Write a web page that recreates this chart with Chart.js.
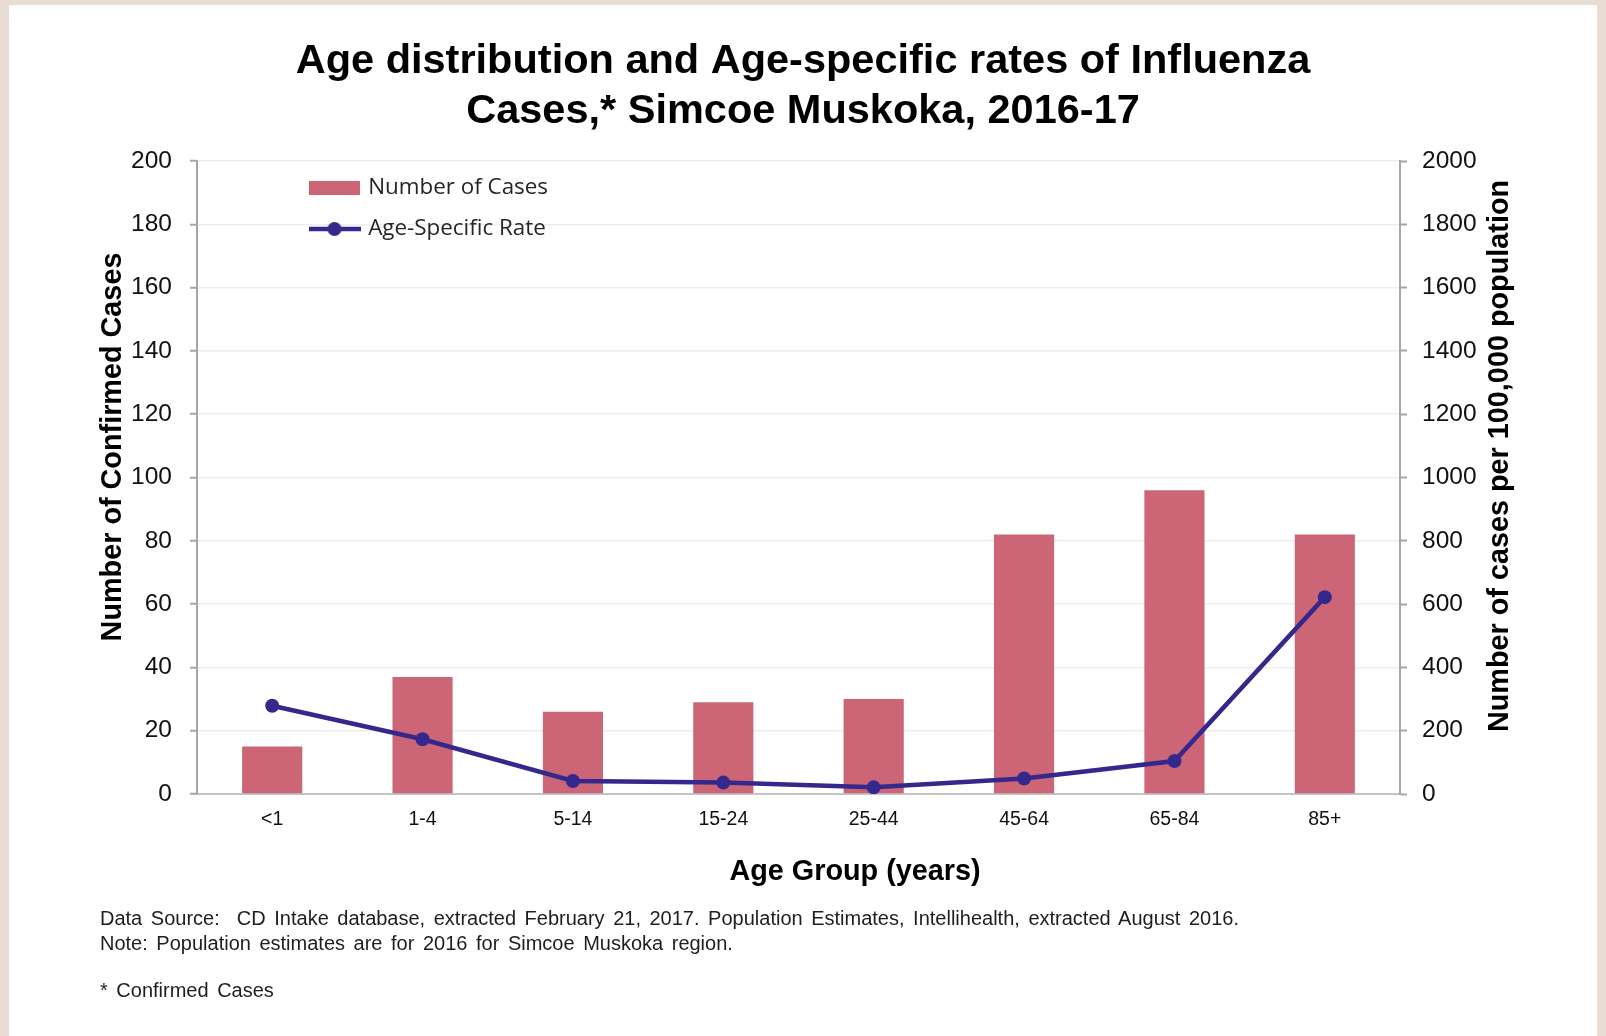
<!DOCTYPE html>
<html>
<head>
<meta charset="utf-8">
<script src="https://cdn.jsdelivr.net/npm/chart.js@4.4.1/dist/chart.umd.min.js"></script>
<style>
html,body{margin:0;padding:0;width:1606px;height:1036px;overflow:hidden;background:#e7ddd2;}
#card{position:absolute;left:9px;top:5px;width:1588px;height:1031px;background:#ffffff;}
#c{position:absolute;left:0;top:0;}
.note{position:absolute;left:100px;font-family:"Liberation Sans",Arial,sans-serif;font-size:20px;line-height:22px;word-spacing:3px;color:#1e1e1e;white-space:pre;}
</style>
</head>
<body>
<div id="card"></div>
<canvas id="c" width="1606" height="1036"></canvas>
<div class="note" style="top:907px">Data Source:  CD Intake database, extracted February 21, 2017. Population Estimates, Intellihealth, extracted August 2016.</div>
<div class="note" style="top:932px">Note: Population estimates are for 2016 for Simcoe Muskoka region.</div>
<div class="note" style="top:979px">* Confirmed Cases</div>
<script>
// ---- data ----
const categories = ['<1', '1-4', '5-14', '15-24', '25-44', '45-64', '65-84', '85+'];
const numberOfCases = [15, 37, 26, 29, 30, 82, 96, 82];
const ageSpecificRate = [279, 173, 41, 36, 21, 49, 104, 622];
const leftTicks = { min: 0, max: 200, step: 20 };
const rightTicks = { min: 0, max: 2000, step: 200 };
const titleLines = ['Age distribution and Age-specific rates of Influenza', 'Cases,* Simcoe Muskoka, 2016-17'];
const seriesNames = ['Number of Cases', 'Age-Specific Rate'];
const yTitleLeft = 'Number of Confirmed Cases';
const yTitleRight = 'Number of cases per 100,000 population';
const xTitle = 'Age Group (years)';

// ---- styles ----
const BAR_COLOR = '#cc6677';
const LINE_COLOR = '#35288c';
const AXIS_COLOR = '#a6a6a6';
const FONT = '"Liberation Sans", Arial, sans-serif';

function makeBarIcon() {
  const c = document.createElement('canvas');
  c.width = 51; c.height = 14;
  const g = c.getContext('2d');
  g.fillStyle = BAR_COLOR;
  g.fillRect(0, 0, 51, 14);
  return c;
}
function makeLineIcon() {
  const c = document.createElement('canvas');
  c.width = 52; c.height = 16;
  const g = c.getContext('2d');
  g.strokeStyle = LINE_COLOR;
  g.lineWidth = 4.5;
  g.beginPath(); g.moveTo(0, 8); g.lineTo(52, 8); g.stroke();
  g.fillStyle = LINE_COLOR;
  g.beginPath(); g.arc(26, 8, 7, 0, Math.PI * 2); g.fill();
  return c;
}
const barIcon = makeBarIcon();
const lineIcon = makeLineIcon();

const legendPlace = {
  id: 'legendPlace',
  afterLayout(chart) {
    const lg = chart.legend;
    if (!lg) return;
    const pad = lg.options.labels.padding;
    const fs = lg.options.labels.font.size;
    lg.left = 312 - pad;
    lg.top = 188 - fs / 2 - pad;
  }
};

const axisTitles = {
  id: 'axisTitles',
  afterDraw(chart) {
    const ctx = chart.ctx;
    ctx.save();
    ctx.fillStyle = '#000';
    ctx.textAlign = 'center';
    ctx.textBaseline = 'middle';
    ctx.font = 'bold 28.8px ' + FONT;
    ctx.save(); ctx.translate(113, 447); ctx.rotate(-Math.PI / 2); ctx.fillText(yTitleLeft, 0, 0); ctx.restore();
    ctx.save(); ctx.translate(1500, 456); ctx.rotate(-Math.PI / 2); ctx.fillText(yTitleRight, 0, 0); ctx.restore();
    ctx.font = 'bold 28.8px ' + FONT;
    ctx.fillText(xTitle, 855, 872);
    ctx.restore();
  }
};

Chart.defaults.font.family = FONT;

new Chart(document.getElementById('c'), {
  data: {
    labels: categories,
    datasets: [
      {
        type: 'bar',
        label: seriesNames[0],
        data: numberOfCases,
        backgroundColor: BAR_COLOR,
        yAxisID: 'y',
        barPercentage: 0.4,
        categoryPercentage: 1.0,
        order: 1
      },
      {
        type: 'line',
        label: seriesNames[1],
        data: ageSpecificRate,
        yAxisID: 'y1',
        borderColor: LINE_COLOR,
        backgroundColor: LINE_COLOR,
        borderWidth: 4.5,
        pointRadius: 7,
        pointBorderWidth: 0,
        pointBackgroundColor: LINE_COLOR,
        tension: 0,
        order: 0
      }
    ]
  },
  options: {
    responsive: false,
    animation: false,
    devicePixelRatio: 1,
    layout: { padding: { top: 0, left: 0, right: 0, bottom: 142 } },
    plugins: {
      tooltip: { enabled: false },
      title: {
        display: true,
        text: titleLines,
        color: '#000',
        font: { size: 41.5, weight: 'bold', lineHeight: 50 / 41.5 },
        padding: { top: 37, bottom: 24 }
      },
      legend: {
        position: 'chartArea',
        align: 'start',
        labels: {
          usePointStyle: true,
          pointStyleWidth: 45,
          padding: 18.6,
          color: '#262626',
          font: { family: '"Open Sans", sans-serif', size: 22.4 },
          generateLabels(chart) {
            return chart.data.datasets.map((ds, i) => ({
              text: ds.label,
              datasetIndex: i,
              pointStyle: i === 0 ? barIcon : lineIcon,
              fillStyle: 'rgba(0,0,0,0)',
              strokeStyle: 'rgba(0,0,0,0)',
              lineWidth: 0,
              hidden: false,
              fontColor: '#262626'
            }));
          }
        }
      }
    },
    scales: {
      x: {
        type: 'category',
        offset: true,
        grid: { display: false, drawTicks: false },
        border: { color: '#c4c4c4', width: 2 },
        ticks: { color: '#111', font: { size: 19.5 }, padding: 14 },
        afterFit(s) { s.height = 100; }
      },
      y: {
        position: 'left',
        min: leftTicks.min,
        max: leftTicks.max,
        ticks: { stepSize: leftTicks.step, color: '#111', font: { size: 24.5 }, padding: 18 },
        grid: { color: '#eeeeee', lineWidth: 1.5, tickColor: AXIS_COLOR, tickLength: 7, tickWidth: 2 },
        border: { color: AXIS_COLOR, width: 2 },
        afterFit(s) { s.width = 197; }
      },
      y1: {
        position: 'right',
        min: rightTicks.min,
        max: rightTicks.max,
        ticks: {
          stepSize: rightTicks.step, color: '#111', font: { size: 24.5 }, padding: 15,
          callback: (v) => String(v)
        },
        grid: { drawOnChartArea: false, tickColor: AXIS_COLOR, tickLength: 7, tickWidth: 2 },
        border: { color: AXIS_COLOR, width: 2 },
        afterFit(s) { s.width = 206; }
      }
    }
  },
  plugins: [legendPlace, axisTitles]
});
</script>
</body>
</html>
